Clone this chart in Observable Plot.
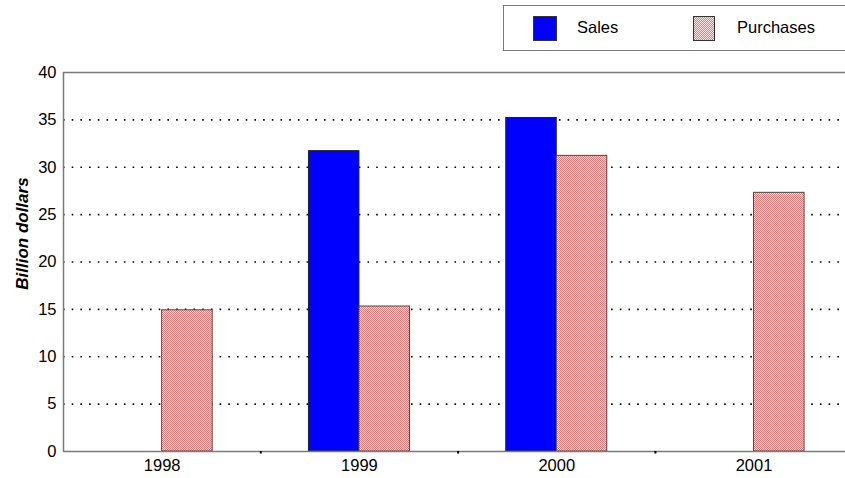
<!DOCTYPE html>
<html>
<head>
<meta charset="utf-8">
<script src="https://cdn.jsdelivr.net/npm/d3@7"></script>
<script src="https://cdn.jsdelivr.net/npm/@observablehq/plot@0.6"></script>
<style>
  html, body { margin: 0; padding: 0; background: #fff; }
  #wrap { position: relative; width: 845px; height: 478px; overflow: hidden; font-family: "Liberation Sans", Arial, sans-serif; }
  #legend { position: absolute; left: 503px; top: 5px; width: 360px; height: 46px; border: 1.5px solid #7a7a7a; box-sizing: border-box; background: #fff; }
  .sw { position: absolute; top: 10px; }
  .lt { position: absolute; top: 12px; font-size: 16.5px; color: #000; }
</style>
</head>
<body>
<div id="wrap"></div>
<script>
const years = [1998, 1999, 2000, 2001];
const salesValues = [null, 31.7, 35.2, null];
const purchasesValues = [14.9, 15.3, 31.2, 27.3];
const seriesNames = ["Sales", "Purchases"];
const yTicks = [0, 5, 10, 15, 20, 25, 30, 35, 40];
const gridTicks = [5, 10, 15, 20, 25, 30, 35];
const boundaries = [1998.5, 1999.5, 2000.5];
const yLabel = "Billion dollars";

const barW = 0.256;
const sales = years.map((y, i) => ({year: y, value: salesValues[i]})).filter(d => d.value != null);
const purchases = years.map((y, i) => ({year: y, value: purchasesValues[i]})).filter(d => d.value != null);

const patternDef = '<pattern id="checker" width="2" height="2" patternUnits="userSpaceOnUse"><rect width="2" height="2" fill="#fde6e6"/><rect x="0" y="0" width="1" height="1" fill="#f07474"/><rect x="1" y="1" width="1" height="1" fill="#f07474"/></pattern>';

const chart = Plot.plot({
  width: 845,
  height: 478,
  marginTop: 72,
  marginBottom: 27,
  marginLeft: 63,
  marginRight: 0,
  style: {fontFamily: "'Liberation Sans', Arial, sans-serif", fontSize: "16px", color: "#000", background: "#fff"},
  x: {type: "linear", domain: [1997.5, 1997.5 + 782 / 197.3], axis: null},
  y: {domain: [0, 40], axis: null},
  marks: [
    Plot.gridY(gridTicks, {stroke: "#000", strokeOpacity: 1, strokeWidth: 1.6, strokeDasharray: "1.6,7.1"}),
    Plot.rect(sales, {x1: d => d.year - barW, x2: d => d.year, y1: 0, y2: "value", fill: "#0000ff", stroke: "#222", strokeWidth: 1}),
    Plot.rect(purchases, {x1: d => d.year, x2: d => d.year + barW, y1: 0, y2: "value", fill: "url(#checker)", stroke: "#444", strokeWidth: 1}),
    Plot.ruleY([0], {stroke: "#7a7a7a", strokeWidth: 1.5}),
    Plot.ruleY([40], {stroke: "#7a7a7a", strokeWidth: 1.5}),
    Plot.ruleX([1997.5], {stroke: "#7a7a7a", strokeWidth: 1.5}),
    Plot.axisY(yTicks, {tickSize: 0, tickPadding: 7, fontSize: 16.5, label: null, tickFormat: d => String(d)}),
    Plot.axisX(years, {tickSize: 0, tickPadding: 8, fontSize: 16.5, label: null, tickFormat: d => String(d)}),
    Plot.axisX(boundaries, {tickSize: 2.5, strokeWidth: 2, stroke: "#000", label: null, tickFormat: () => ""}),
    Plot.text([yLabel], {frameAnchor: "left", y: () => 23.0, dx: -41, rotate: -90, textAnchor: "middle", fontSize: 17, fontStyle: "italic", fontWeight: "bold", fill: "#000", text: d => d})
  ]
});

const ns = "http://www.w3.org/2000/svg";
const defs = document.createElementNS(ns, "defs");
defs.innerHTML = patternDef;
chart.insertBefore(defs, chart.firstChild);

const wrap = document.getElementById("wrap");
wrap.appendChild(chart);

const legend = document.createElement("div");
legend.id = "legend";
const swLeft = [29, 189];
const swWidth = [24, 22];
const txtLeft = [73, 233];
const swFill = ["#0000ff", "url(#checker)"];
seriesNames.forEach((name, i) => {
  const holder = document.createElement("div");
  holder.className = "sw";
  holder.style.left = swLeft[i] + "px";
  holder.innerHTML = '<svg width="' + swWidth[i] + '" height="25" xmlns="http://www.w3.org/2000/svg"><rect x="0.5" y="0.5" width="' + (swWidth[i] - 1) + '" height="24" fill="' + swFill[i] + '" stroke="#333" stroke-width="1"/></svg>';
  legend.appendChild(holder);
  const t = document.createElement("div");
  t.className = "lt";
  t.style.left = txtLeft[i] + "px";
  t.textContent = name;
  legend.appendChild(t);
});
wrap.appendChild(legend);
</script>
</body>
</html>
